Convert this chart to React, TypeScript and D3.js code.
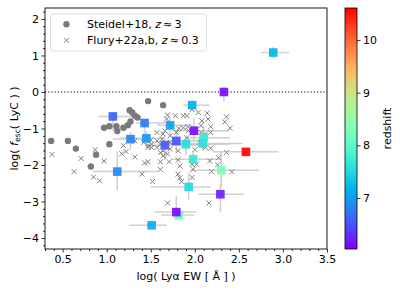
import React, { useEffect, useRef } from 'react';
import * as d3 from 'd3';

// Steidel+18 (z~3) stacks
const steidelEW = [0.37, 0.56, 0.65, 0.82, 0.88, 0.97, 1.03, 1.03, 1.11, 1.12, 1.19, 1.24, 1.27, 1.26, 1.29, 1.32, 1.35, 1.47, 1.64];
const steidelFesc = [-1.34, -1.34, -1.55, -2.04, -1.72, -0.98, -0.94, -1.43, -0.94, -1.07, -0.98, -0.91, -0.81, -0.5, -0.56, -0.65, -0.7, -0.25, -0.36];

// Flury+22a,b (z~0.3)
const fluryEW = [0.38, 0.71, 0.87, 0.97, 0.63, 0.85, 0.92, 1.17, 1.22, 1.32, 1.4, 1.52, 1.43, 1.47, 1.61, 1.61, 1.64, 1.69, 1.71, 1.72, 1.81, 1.83, 1.81, 1.83, 1.85, 1.69, 1.47, 1.51, 1.57, 2.0, 1.97, 1.97, 1.98, 1.97, 2.26, 2.19, 2.42, 2.16, 2.18, 2.14, 2.15, 2.36, 2.34, 2.4, 2.18, 1.97, 1.91, 1.92, 2.07, 2.12, 2.18, 2.07, 2.06, 2.12, 1.87, 1.78, 1.69, 2.04, 2.08, 1.82, 1.87, 1.72, 1.57, 1.64, 1.63, 1.61, 1.64, 1.81, 2.02, 2.17, 2.27, 2.36, 1.51, 1.61, 1.68, 1.79, 1.93, 1.19, 1.32, 1.5, 1.57, 1.47, 1.72, 1.91, 1.42, 1.66, 1.72];
const fluryFesc = [-1.71, -1.82, -1.58, -1.89, -2.18, -2.33, -2.43, -1.69, -1.63, -1.78, -2.25, -2.45, -1.94, -1.91, -1.91, -2.12, -1.75, -1.7, -1.91, -1.56, -1.86, -2.03, -2.25, -2.35, -2.45, -3.04, -1.52, -1.52, -1.52, -1.58, -1.86, -1.98, -2.12, -2.34, -1.99, -2.18, -2.18, -3.04, -1.54, -0.58, -0.74, -0.68, -0.82, -0.99, -0.95, -0.48, -0.65, -0.95, -1.11, -1.15, -1.11, -0.92, -1.38, -1.52, -0.65, -0.65, -0.63, -0.56, -0.79, -1.0, -0.98, -0.97, -1.11, -1.15, -1.29, -1.66, -1.61, -1.61, -1.98, -1.89, -1.8, -1.66, -1.43, -1.43, -0.74, -1.11, -1.06, -1.47, -1.34, -1.32, -1.34, -1.47, -1.38, -1.25, -1.38, -1.06, -1.2];

// high-z sample, coloured by redshift
const galEW = [2.89, 2.33, 1.07, 1.43, 1.72, 1.97, 1.99, 2.1, 1.45, 1.79, 1.9, 1.66, 2.09, 1.27, 1.98, 2.3, 1.12, 1.93, 1.82, 1.79, 1.51, 2.58, 2.29];
const galFesc = [1.08, 0.0, -0.67, -0.85, -0.91, -0.36, -1.06, -1.25, -1.27, -1.34, -1.43, -1.46, -1.41, -1.29, -1.84, -2.14, -2.18, -2.6, -3.37, -3.29, -3.65, -1.64, -2.8];
const galZ = [7.2, 6.1, 6.6, 6.75, 7.05, 7.15, 6.1, 7.7, 6.95, 6.5, 7.55, 6.55, 7.6, 6.8, 7.7, 8.3, 6.85, 7.5, 8.15, 6.1, 7.15, 10.6, 6.2];
const galEWlo = [0.14, 0, 0.17, 0.1, 0.15, 0.1, 0.25, 0.2, 0.3, 0.2, 0.3, 0.2, 0.4, 0.2, 0.25, 0.35, 0.28, 0.43, 0.2, 0.25, 0.26, 0.38, 0.25];
const galEWhi = [0.18, 0, 0.31, 0.25, 0.25, 0.2, 0.4, 0.3, 0.2, 0.3, 0.5, 0.4, 0.45, 0.2, 0.3, 0.43, 0.46, 0.25, 0.17, 0.23, 0.17, 0.37, 0.27];
const galFlo = [0.15, 0.27, 0.39, 0.3, 0.3, 0.15, 0.3, 0.3, 0.2, 0.3, 0.3, 0.4, 0.2, 0.3, 0.2, 0.45, 0.5, 0.35, 0.1, 0.2, 0.05, 0.1, 0.5];
const galFhi = [0.15, 0, 0.1, 0.1, 0.2, 0.1, 0.35, 0.3, 0.2, 0.3, 0.2, 0.2, 0.2, 0.2, 0.2, 0.5, 0.55, 0.4, 0.1, 0.45, 0.05, 0.1, 0.3];

const xTicks = [0.5, 1.0, 1.5, 2.0, 2.5, 3.0, 3.5];
const yTicks = [-4, -3, -2, -1, 0, 1, 2];
const zTicks = [7, 8, 9, 10];

const rainbow = (t) => {
  const r = Math.min(1, Math.abs(2 * t - 0.5));
  const g = Math.sin(Math.PI * t);
  const b = Math.cos(Math.PI * t / 2);
  return d3.rgb(r * 255, g * 255, b * 255).formatHex();
};

const App = () => {
  const svgRef = useRef(null);

  useEffect(() => {
    const width = 407;
    const height = 291;
    const left = 45, right = 327, top = 8, bottom = 249;
    const cbLeft = 345, cbRight = 357;
    const font = "DejaVu Sans, sans-serif";
    const fs = 11;

    const x = d3.scaleLinear().domain([0.3, 3.5]).range([left, right]);
    const y = d3.scaleLinear().domain([-4.3, 2.3]).range([bottom, top]);
    const zScale = d3.scaleLinear().domain([6.03, 10.61]).range([bottom, top]);
    const zNorm = d3.scaleLinear().domain([6.03, 10.61]).range([0, 1]).clamp(true);

    const svg = d3.select(svgRef.current)
      .attr("width", width)
      .attr("height", height)
      .style("position", "absolute")
      .style("left", 0)
      .style("top", 0)
      .style("font-family", font);
    svg.selectAll("*").remove();

    const defs = svg.append("defs");
    defs.append("clipPath").attr("id", "plot-clip")
      .append("rect").attr("x", left).attr("y", top).attr("width", right - left).attr("height", bottom - top);

    const grad = defs.append("linearGradient").attr("id", "cb-grad")
      .attr("x1", 0).attr("y1", 1).attr("x2", 0).attr("y2", 0);
    d3.range(0, 1.0001, 0.05).forEach(t => {
      grad.append("stop").attr("offset", t).attr("stop-color", rainbow(t));
    });

    const plot = svg.append("g").attr("clip-path", "url(#plot-clip)");

    // zero line
    plot.append("line")
      .attr("x1", left).attr("x2", right)
      .attr("y1", y(0)).attr("y2", y(0))
      .attr("stroke", "#000").attr("stroke-width", 1.2)
      .attr("stroke-dasharray", "1.2,2");

    // error bars
    const idx = d3.range(galEW.length);
    const gErr = plot.append("g")
      .attr("stroke", "#c8c8c8").attr("stroke-width", 1.5).attr("stroke-opacity", 0.85);
    idx.forEach(i => {
      if (galEWlo[i] + galEWhi[i] > 0) {
        gErr.append("line")
          .attr("x1", x(galEW[i] - galEWlo[i])).attr("x2", x(galEW[i] + galEWhi[i]))
          .attr("y1", y(galFesc[i])).attr("y2", y(galFesc[i]));
      }
      gErr.append("line")
        .attr("x1", x(galEW[i])).attr("x2", x(galEW[i]))
        .attr("y1", y(galFesc[i] - galFlo[i])).attr("y2", y(galFesc[i] + galFhi[i]));
    });

    // Steidel circles
    plot.append("g").selectAll("circle")
      .data(d3.range(steidelEW.length))
      .join("circle")
      .attr("cx", i => x(steidelEW[i]))
      .attr("cy", i => y(steidelFesc[i]))
      .attr("r", 3.2)
      .attr("fill", "#7a7a7a");

    // Flury crosses
    const s = 2.5;
    plot.append("g").attr("stroke", "#808080").attr("stroke-width", 1)
      .selectAll("path")
      .data(d3.range(fluryEW.length))
      .join("path")
      .attr("fill", "none")
      .attr("d", i => {
        const px = x(fluryEW[i]), py = y(fluryFesc[i]);
        return `M${px - s},${py - s}L${px + s},${py + s}M${px - s},${py + s}L${px + s},${py - s}`;
      });

    // coloured squares
    const sq = 8.6;
    plot.append("g").selectAll("rect")
      .data(idx)
      .join("rect")
      .attr("x", i => x(galEW[i]) - sq / 2)
      .attr("y", i => y(galFesc[i]) - sq / 2)
      .attr("width", sq).attr("height", sq)
      .attr("fill", i => rainbow(zNorm(galZ[i])))
      .attr("fill-opacity", 0.92);

    // frame
    svg.append("rect")
      .attr("x", left).attr("y", top).attr("width", right - left).attr("height", bottom - top)
      .attr("fill", "none").attr("stroke", "#000").attr("stroke-width", 0.9);

    // x axis
    const xAxis = d3.axisBottom(x).tickValues(xTicks).tickFormat(d3.format(".1f")).tickSize(3.5).tickPadding(2.5);
    const gx = svg.append("g").attr("transform", `translate(0,${bottom})`).call(xAxis);
    gx.append("g").call(d3.axisBottom(x).tickValues(d3.range(0.3, 3.51, 0.1).filter(v => Math.abs(v * 2 - Math.round(v * 2)) > 0.01)).tickFormat("").tickSize(2));
    const ySub = d3.range(-4.2, 2.21, 0.2).filter(v => Math.abs(v - Math.round(v)) > 0.01);
    const yAxis = d3.axisLeft(y).tickValues(yTicks).tickFormat(d => d < 0 ? "\u2212" + Math.abs(d) : d).tickSize(3.5).tickPadding(2.5);
    const gy = svg.append("g").attr("transform", `translate(${left},0)`).call(yAxis);
    gy.append("g").call(d3.axisLeft(y).tickValues(ySub).tickFormat("").tickSize(2));

    [gx, gy].forEach(g => {
      g.selectAll(".domain").remove();
      g.selectAll("text").attr("font-size", fs).attr("font-family", font).attr("fill", "#000");
      g.selectAll("line").attr("stroke", "#000").attr("stroke-width", 0.8);
    });

    // axis labels
    svg.append("text")
      .attr("x", (left + right) / 2).attr("y", 280)
      .attr("text-anchor", "middle").attr("font-size", fs)
      .text("log( Ly\u03b1 EW [ \u00c5 ] )");

    const yl = svg.append("text")
      .attr("transform", `translate(17.5,${(top + bottom) / 2}) rotate(-90)`)
      .attr("text-anchor", "middle").attr("font-size", fs);
    yl.append("tspan").text("log( ");
    yl.append("tspan").attr("font-style", "italic").text("f");
    yl.append("tspan").attr("font-size", 7.7).attr("dy", 2.5).text("esc");
    yl.append("tspan").attr("dy", -2.5).text("( LyC ) )");

    // legend
    const lg = svg.append("g");
    lg.append("rect")
      .attr("x", 50.5).attr("y", 14).attr("width", 156).attr("height", 37)
      .attr("rx", 2.5).attr("fill", "#fff").attr("fill-opacity", 0.8)
      .attr("stroke", "#d6d6d6").attr("stroke-width", 0.8);
    lg.append("circle").attr("cx", 66.5).attr("cy", 24.3).attr("r", 3.2).attr("fill", "#7a7a7a");
    lg.append("path")
      .attr("d", `M${66.5 - s},${40.3 - s}L${66.5 + s},${40.3 + s}M${66.5 - s},${40.3 + s}L${66.5 + s},${40.3 - s}`)
      .attr("stroke", "#808080").attr("stroke-width", 1);
    const t1 = lg.append("text").attr("x", 87).attr("y", 28.2).attr("font-size", fs);
    t1.append("tspan").text("Steidel+18, ");
    t1.append("tspan").attr("font-style", "italic").text("z");
    t1.append("tspan").text("\u2009\u2248\u20093");
    const t2 = lg.append("text").attr("x", 87).attr("y", 44.2).attr("font-size", fs);
    t2.append("tspan").text("Flury+22a,b, ");
    t2.append("tspan").attr("font-style", "italic").text("z");
    t2.append("tspan").text("\u2009\u2248\u20090.3");

    // colorbar
    svg.append("rect")
      .attr("x", cbLeft).attr("y", top).attr("width", cbRight - cbLeft).attr("height", bottom - top)
      .attr("fill", "url(#cb-grad)").attr("stroke", "#000").attr("stroke-width", 0.8);
    const gc = svg.append("g").attr("transform", `translate(${cbRight},0)`)
      .call(d3.axisRight(zScale).tickValues(zTicks).tickFormat(d3.format("d")).tickSize(3.5).tickPadding(2.5));
    gc.selectAll(".domain").remove();
    gc.selectAll("text").attr("font-size", fs).attr("font-family", font).attr("fill", "#000");
    gc.selectAll("line").attr("stroke", "#000").attr("stroke-width", 0.8);
    svg.append("text")
      .attr("transform", `translate(391,${(top + bottom) / 2}) rotate(-90)`)
      .attr("text-anchor", "middle").attr("font-size", fs)
      .text("redshift");
  }, []);

  return <svg ref={svgRef}></svg>;
};

export default App;
